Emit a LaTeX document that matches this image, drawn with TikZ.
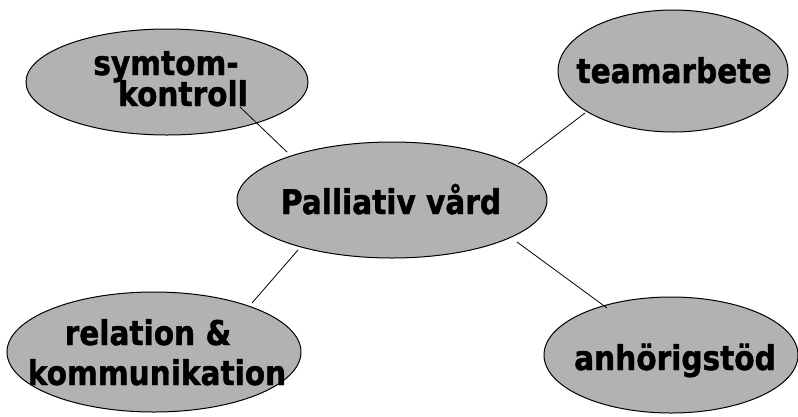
\documentclass[tikz,border=0pt]{standalone}
\usepackage{fontspec}
\newfontfamily\lblfont{DejaVu Sans}[FakeStretch=0.87,FakeBold=1.2]
\usetikzlibrary{shapes.geometric}
\begin{document}
\begin{tikzpicture}[x=1pt,y=-1pt,
  bubble/.style={ellipse,draw=black,line width=1pt,fill=black!30,inner sep=0pt},
  lbl/.style={font=\lblfont\bfseries\fontsize{34}{34}\selectfont,text=black,inner sep=0pt,anchor=base},
  link/.style={line width=0.8pt,draw=black}]
\useasboundingbox[fill=white] (0,0) rectangle (798,416);
% bubbles
\node[bubble,minimum width=282pt,minimum height=106pt] (sym) at (167,82) {};
\node[bubble,minimum width=310pt,minimum height=116pt] (pal) at (392,200) {};
\node[bubble,minimum width=230pt,minimum height=122pt] (team) at (673,71) {};
\node[bubble,minimum width=294pt,minimum height=120pt] (rel) at (154,352) {};
\node[bubble,minimum width=254pt,minimum height=116pt] (anh) at (671,355) {};
% connector end points
\coordinate (s1) at (240,107);
\coordinate (s2) at (287,152);
\coordinate (t1) at (518,164);
\coordinate (t2) at (585,113);
\coordinate (r1) at (298,250);
\coordinate (r2) at (252,303);
\coordinate (a1) at (517,242);
\coordinate (a2) at (607,308);
\draw[link] (s1) -- (s2);
\draw[link] (t1) -- (t2);
\draw[link] (r1) -- (r2);
\draw[link] (a1) -- (a2);
% labels
\node[lbl] (lsym1) at (166,75) {symtom-};
\node[lbl] (lsym2) at (183,106) {kontroll};
\node[lbl] (lpal) at (391,214) {Palliativ vård};
\node[lbl] (lteam) at (674,83) {teamarbete};
\node[lbl] (lrel1) at (148,345) {relation \&};
\node[lbl] (lrel2) at (157,385) {kommunikation};
\node[lbl] (lanh) at (675,370) {anhörigstöd};
\end{tikzpicture}
\end{document}
